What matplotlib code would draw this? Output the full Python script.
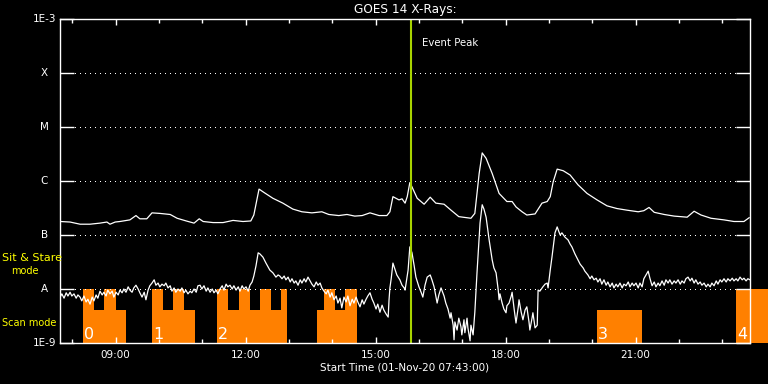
import numpy as np
import matplotlib
matplotlib.use('Agg')
import matplotlib.pyplot as plt
from matplotlib.ticker import FixedLocator, NullLocator

# GOES 14 long channel (1-8 A): time in hours UT, log10 flux (W/m^2)
long_t = [7.72, 7.95, 8.18, 8.41, 8.64, 8.80, 8.87, 8.99, 9.10, 9.33, 9.47, 9.56,
          9.72, 9.84, 10.02, 10.26, 10.42, 10.63, 10.81, 10.93, 11.02, 11.25, 11.48,
          11.71, 11.94, 12.12, 12.19, 12.31, 12.42, 12.63, 12.86, 13.09, 13.30, 13.53,
          13.76, 13.92, 14.15, 14.34, 14.52, 14.69, 14.87, 15.08, 15.26, 15.33, 15.40,
          15.54, 15.61, 15.68, 15.73, 15.79, 15.84, 15.96, 16.12, 16.26, 16.39, 16.58,
          16.74, 16.92, 17.20, 17.29, 17.39, 17.46, 17.55, 17.69, 17.85, 18.03, 18.15,
          18.24, 18.38, 18.49, 18.68, 18.84, 18.96, 19.03, 19.10, 19.19, 19.33, 19.49,
          19.67, 19.88, 20.11, 20.34, 20.57, 20.80, 21.06, 21.19, 21.31, 21.43, 21.66,
          21.89, 22.19, 22.35, 22.51, 22.74, 23.04, 23.27, 23.50, 23.62]
long_logf = [-6.75, -6.76, -6.80, -6.80, -6.78, -6.76, -6.80, -6.76, -6.75, -6.72, -6.64, -6.70,
             -6.70, -6.59, -6.60, -6.62, -6.69, -6.74, -6.78, -6.70, -6.75, -6.77, -6.77,
             -6.73, -6.75, -6.74, -6.63, -6.15, -6.21, -6.32, -6.41, -6.52, -6.57, -6.59,
             -6.57, -6.62, -6.64, -6.62, -6.65, -6.64, -6.59, -6.64, -6.64, -6.57, -6.29,
             -6.35, -6.33, -6.41, -6.29, -6.03, -6.11, -6.32, -6.43, -6.30, -6.41, -6.43,
             -6.54, -6.66, -6.69, -6.60, -5.86, -5.48, -5.58, -5.86, -6.23, -6.38, -6.38,
             -6.48, -6.57, -6.63, -6.61, -6.41, -6.38, -6.29, -6.01, -5.78, -5.81, -5.89,
             -6.07, -6.23, -6.35, -6.46, -6.51, -6.54, -6.57, -6.55, -6.49, -6.58, -6.62,
             -6.65, -6.67, -6.56, -6.63, -6.69, -6.72, -6.75, -6.75, -6.68]

# GOES 14 short channel (0.5-4 A), read in three pieces
short_t_a = [7.72, 7.76, 7.81, 7.86, 7.90, 7.95, 7.99, 8.04, 8.09, 8.13,
             8.18, 8.22, 8.27, 8.32, 8.36, 8.41, 8.46, 8.50, 8.55, 8.59,
             8.64, 8.69, 8.73, 8.78, 8.82, 8.87, 8.92, 8.96, 9.01, 9.06,
             9.10, 9.15, 9.19, 9.24, 9.29, 9.33, 9.38, 9.42, 9.47, 9.52,
             9.56, 9.61, 9.66, 9.70, 9.75, 9.79, 9.84, 9.89, 9.93, 9.98,
             10.02, 10.07, 10.12, 10.16, 10.21, 10.26, 10.30, 10.35, 10.39, 10.44,
             10.49, 10.53, 10.58, 10.62, 10.67, 10.72, 10.76, 10.81, 10.86, 10.90,
             10.95, 10.99, 11.04, 11.09, 11.13, 11.18, 11.23, 11.27, 11.32, 11.36,
             11.41, 11.46, 11.50, 11.55, 11.59, 11.64, 11.69, 11.73, 11.78, 11.83,
             11.87, 11.92, 11.96, 12.01, 12.06, 12.10, 12.15, 12.19, 12.24, 12.29]
short_logf_a = [-8.15, -8.09, -8.17, -8.07, -8.13, -8.06, -8.13, -8.09, -8.17, -8.11,
                -8.15, -8.22, -8.13, -8.24, -8.19, -8.28, -8.15, -8.22, -8.11, -8.17,
                -8.04, -8.11, -8.06, -8.13, -8.02, -8.09, -8.04, -8.15, -8.06, -8.11,
                -8.02, -8.07, -8.00, -8.06, -7.96, -8.02, -8.06, -7.98, -7.93, -8.00,
                -8.07, -8.15, -8.06, -8.20, -8.02, -7.94, -7.89, -7.83, -7.93, -7.89,
                -7.96, -7.91, -7.94, -7.89, -7.98, -7.94, -8.04, -7.98, -8.06, -8.00,
                -8.04, -7.98, -8.07, -8.02, -8.09, -8.04, -8.07, -8.00, -8.06, -7.94,
                -7.93, -8.00, -7.94, -8.04, -7.98, -8.06, -8.00, -8.07, -8.02, -8.09,
                -8.00, -7.94, -8.02, -7.91, -7.96, -7.93, -8.00, -7.94, -8.02, -7.96,
                -8.04, -7.94, -8.00, -7.96, -8.04, -7.93, -7.87, -7.76, -7.57, -7.33]

short_t_b = [12.33, 12.40, 12.47, 12.52, 12.56, 12.63, 12.70, 12.75, 12.79, 12.84,
             12.89, 12.93, 12.98, 13.03, 13.07, 13.12, 13.16, 13.21, 13.26, 13.30,
             13.35, 13.39, 13.44, 13.49, 13.53, 13.58, 13.63, 13.67, 13.72, 13.76,
             13.81, 13.86, 13.90, 13.95, 13.99, 14.04, 14.09, 14.13, 14.18, 14.22,
             14.27, 14.32, 14.36, 14.41, 14.46, 14.50, 14.55, 14.59, 14.64, 14.69,
             14.73, 14.78, 14.82, 14.87, 14.92, 14.96, 15.01, 15.05, 15.10, 15.15,
             15.19, 15.24, 15.29, 15.31, 15.33, 15.36, 15.40, 15.49, 15.56, 15.61,
             15.66, 15.68, 15.75, 15.79, 15.84, 15.89, 15.93, 16.00, 16.05, 16.09,
             16.14, 16.19, 16.26, 16.30, 16.35, 16.39, 16.42, 16.46, 16.51, 16.58,
             16.62, 16.67, 16.72, 16.74, 16.79, 16.81, 16.83, 16.88, 16.92, 16.97,
             16.99, 17.04, 17.06, 17.11, 17.13, 17.18, 17.20, 17.25, 17.29, 17.34,
             17.41, 17.46, 17.50, 17.55, 17.62, 17.69, 17.73, 17.78, 17.83, 17.85,
             17.87, 17.92, 17.96, 18.01, 18.03, 18.08, 18.13, 18.15, 18.20, 18.24,
             18.29, 18.31, 18.36, 18.40, 18.45, 18.49, 18.54, 18.56, 18.61, 18.63,
             18.68, 18.73, 18.75, 18.79, 18.86, 18.91, 18.96, 18.98, 19.03, 19.07,
             19.14, 19.19, 19.23, 19.26, 19.30, 19.37, 19.44, 19.49, 19.53, 19.60,
             19.65, 19.72, 19.79, 19.83, 19.86]
short_logf_b = [-7.35, -7.41, -7.52, -7.59, -7.65, -7.70, -7.78, -7.74, -7.76, -7.81,
                -7.76, -7.83, -7.78, -7.87, -7.81, -7.89, -7.85, -7.93, -7.83, -7.89,
                -7.81, -7.87, -7.78, -7.85, -7.91, -7.96, -7.87, -7.93, -7.89, -7.98,
                -8.04, -8.09, -8.02, -8.15, -8.07, -8.20, -8.13, -8.26, -8.17, -8.35,
                -8.15, -8.24, -8.13, -8.31, -8.19, -8.26, -8.15, -8.24, -8.33, -8.20,
                -8.28, -8.19, -8.13, -8.07, -8.19, -8.26, -8.37, -8.28, -8.43, -8.30,
                -8.39, -8.46, -8.52, -8.20, -7.98, -7.81, -7.52, -7.74, -7.83, -7.93,
                -7.98, -8.02, -7.65, -7.22, -7.33, -7.57, -7.78, -7.96, -8.06, -8.15,
                -7.93, -7.78, -7.74, -7.83, -7.96, -8.13, -8.26, -8.11, -7.98, -8.13,
                -8.26, -8.37, -8.54, -8.44, -8.67, -8.94, -8.61, -8.76, -8.54, -8.70,
                -8.85, -8.57, -8.81, -8.54, -8.72, -8.96, -8.67, -8.85, -8.43, -7.70,
                -6.78, -6.44, -6.52, -6.67, -7.09, -7.46, -7.61, -7.70, -8.02, -8.20,
                -8.09, -8.26, -8.37, -8.44, -8.31, -8.26, -8.13, -8.06, -8.39, -8.63,
                -8.35, -8.20, -8.43, -8.57, -8.39, -8.33, -8.61, -8.76, -8.54, -8.44,
                -8.72, -8.67, -8.02, -8.04, -7.96, -7.91, -7.89, -7.98, -7.65, -7.41,
                -6.96, -6.85, -6.94, -7.00, -6.96, -7.04, -7.09, -7.17, -7.22, -7.35,
                -7.43, -7.54, -7.61, -7.67, -7.70]

short_t_c = [19.90, 19.95, 19.99, 20.04, 20.09, 20.13, 20.18, 20.22, 20.27, 20.32,
             20.36, 20.41, 20.46, 20.50, 20.55, 20.59, 20.64, 20.69, 20.73, 20.78,
             20.83, 20.87, 20.92, 20.96, 21.01, 21.06, 21.10, 21.15, 21.19, 21.24,
             21.29, 21.33, 21.38, 21.43, 21.47, 21.52, 21.56, 21.61, 21.66, 21.70,
             21.75, 21.79, 21.84, 21.89, 21.93, 21.98, 22.03, 22.07, 22.12, 22.16,
             22.21, 22.26, 22.30, 22.35, 22.39, 22.44, 22.49, 22.53, 22.58, 22.63,
             22.67, 22.72, 22.76, 22.81, 22.86, 22.90, 22.95, 22.99, 23.04, 23.09,
             23.13, 23.18, 23.23, 23.27, 23.32, 23.36, 23.41, 23.46, 23.50, 23.55,
             23.59, 23.64]
short_logf_c = [-7.74, -7.81, -7.76, -7.83, -7.80, -7.87, -7.81, -7.91, -7.83, -7.93,
                -7.87, -7.96, -7.89, -7.98, -7.91, -7.96, -7.89, -7.98, -7.91, -7.94,
                -7.87, -7.96, -7.89, -7.94, -7.89, -7.98, -7.89, -7.96, -7.81, -7.74,
                -7.67, -7.80, -7.94, -7.87, -7.96, -7.89, -7.94, -7.85, -7.93, -7.83,
                -7.89, -7.83, -7.91, -7.85, -7.89, -7.83, -7.91, -7.85, -7.89, -7.81,
                -7.78, -7.85, -7.80, -7.89, -7.83, -7.91, -7.87, -7.93, -7.89, -7.96,
                -7.91, -7.96, -7.89, -7.94, -7.85, -7.91, -7.83, -7.87, -7.81, -7.87,
                -7.81, -7.85, -7.80, -7.85, -7.81, -7.85, -7.78, -7.83, -7.80, -7.85,
                -7.81, -7.83]

# observing mode segments: start, end (hours), mode 1 = sit & stare, 0 = scan
seg_start = [8.25, 8.50, 8.73, 9.01, 9.84, 10.09, 10.32, 10.58, 11.34, 11.59, 11.85,
             12.10, 12.33, 12.59, 12.82, 13.65, 13.81, 14.06, 14.29, 20.11, 23.32]
seg_end = [8.50, 8.73, 9.01, 9.24, 10.09, 10.32, 10.58, 10.83, 11.59, 11.85, 12.10,
           12.33, 12.59, 12.82, 12.96, 13.81, 14.06, 14.29, 14.57, 21.15, 24.06]
seg_mode = [1, 0, 1, 0, 1, 0, 1, 0, 1, 0, 1, 0, 1, 0, 1, 0, 1, 0, 1, 0, 1]
seg_labels = ['0', '1', '2', '3', '4']
seg_label_t = [8.27, 9.86, 11.36, 20.13, 23.34]

level_names = ['1E-9', 'A', 'B', 'C', 'M', 'X', '1E-3']
level_exp = [-9, -8, -7, -6, -5, -4, -3]
hour_ticks = [9, 12, 15, 18, 21]
event_t = 15.81
t_start = 7.717
t_end = 23.64

orange = '#ff8000'
yellow = '#ffff00'
green = '#a8d400'

short_t = short_t_a + short_t_b + short_t_c
short_logf = short_logf_a + short_logf_b + short_logf_c

fig = plt.figure(figsize=(7.68, 3.84), dpi=100, facecolor='black')
ax = fig.add_axes([60/768, 41/384, 690/768, 324/384])
ax.set_facecolor('black')
ax.set_yscale('log')
ax.set_xlim(t_start, t_end)
ax.set_ylim(1e-9, 1e-3)

# mode blocks
stare_top = 1e-8
scan_top = 10 ** -8.39
tops = np.where(np.array(seg_mode) == 1, stare_top, scan_top)
ax.bar(seg_start, tops - 1e-9, width=np.array(seg_end) - np.array(seg_start),
       bottom=1e-9, align='edge', color=orange, linewidth=0,
       clip_on=False, zorder=1)
for lab, t in zip(seg_labels, seg_label_t):
    ax.text(t, 10 ** (-9 + 4/54), lab, color='white', fontsize=11.5,
            ha='left', va='baseline', zorder=3)

# dotted decade lines
for e in level_exp[1:-1]:
    ax.axhline(10.0 ** e, color='white', lw=0.72, ls=(0, (1, 5)),
               antialiased=False, zorder=1.5)

ax.plot(long_t, 10 ** np.array(long_logf), color='white', lw=0.9, zorder=2)
ax.plot(short_t, 10 ** np.array(short_logf), color='white', lw=0.9, zorder=2)

ax.axvline(event_t, color=green, lw=1.5, zorder=4)
ax.text(event_t + 0.25, 10 ** -3.44, 'Event Peak', color='white', fontsize=7.3,
        ha='left', va='center')

for s in ax.spines.values():
    s.set_color('white')
    s.set_linewidth(1)
    s.set_zorder(5)

# y axis labels drawn by hand
ax.set_yticks([10.0 ** e for e in level_exp])
ax.yaxis.set_minor_locator(NullLocator())
ax.tick_params(axis='y', which='major', direction='in', length=10, width=1,
               left=True, right=True, colors='white', labelleft=False)
ytr = ax.get_yaxis_transform()
for name, e in zip(level_names, level_exp):
    if name.startswith('1E'):
        ax.text(-0.005, 10.0 ** e, name, transform=ytr, color='white',
                fontsize=7.5, ha='right', va='center')
    else:
        ax.text(-0.023, 10.0 ** e, name, transform=ytr, color='white',
                fontsize=7.5, ha='center', va='center')

ax.xaxis.set_major_locator(FixedLocator(hour_ticks))
ax.xaxis.set_minor_locator(FixedLocator([h for h in range(8, 24) if h not in hour_ticks]))
ax.set_xticklabels(['%02d:00' % h for h in hour_ticks])
ax.tick_params(axis='x', which='both', direction='in', top=True, bottom=True,
               colors='white', labelsize=7.5, pad=5, width=1)
ax.tick_params(axis='x', which='major', length=4.3)
ax.tick_params(axis='x', which='minor', length=2.9)

fig.text(405/768, 1 - 10/384, 'GOES 14 X-Rays:', color='white', fontsize=8.7,
         ha='center', va='center')
fig.text(405/768, 1 - 368/384, 'Start Time (01-Nov-20 07:43:00)', color='white',
         fontsize=7.5, ha='center', va='center')
fig.text(2/768, 1 - 258/384, 'Sit & Stare', color=yellow, fontsize=8,
         ha='left', va='center')
fig.text(24.5/768, 1 - 271/384, 'mode', color=yellow, fontsize=7,
         ha='center', va='center')
fig.text(2/768, 1 - 323/384, 'Scan mode', color=yellow, fontsize=7,
         ha='left', va='center')

fig.savefig('out.png', dpi=100, facecolor='black')
